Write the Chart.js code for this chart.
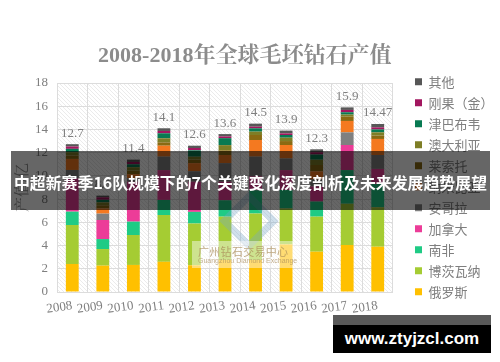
<!DOCTYPE html>
<html>
<head>
<meta charset="utf-8">
<script src="https://cdn.jsdelivr.net/npm/chart.js@4.4.1/dist/chart.umd.min.js"></script>
<style>
  html, body { margin: 0; padding: 0; background: #fff; }
  #wrap { position: relative; width: 500px; height: 362px; overflow: hidden; }
  #banner {
    position: absolute; left: 11px; top: 151px; width: 479px; height: 59px;
    background: rgba(0, 0, 0, 0.6); color: #fff;
    font-family: "Noto Sans CJK SC", sans-serif; font-weight: bold; font-size: 15.9px;
    line-height: 64px; text-align: center; white-space: nowrap;
  }
  #mark {
    position: absolute; left: 192px; top: 241px; width: 108px; height: 27px;
    background: rgba(255, 255, 255, 0.45);
  }
  #mark .cn { position: absolute; left: 6px; top: 2px; font-family: "Noto Sans CJK SC", sans-serif;
    font-size: 11px; color: rgba(170, 140, 90, 0.75); letter-spacing: 0.3px; white-space: nowrap; }
  #mark .en { position: absolute; left: 6px; top: 16px; font-family: "Liberation Sans", sans-serif;
    font-size: 7px; color: rgba(170, 140, 90, 0.7); white-space: nowrap; }
  #logo {
    position: absolute; left: 228px; top: 200px; width: 28px; height: 28px;
    border: 7px solid rgba(120, 165, 200, 0.35); transform: rotate(45deg);
  }
  #site-top { position: absolute; left: 333px; top: 315px; width: 158px; height: 10px; background: rgba(0,0,0,0.65); }
  #site {
    position: absolute; left: 333px; top: 325px; width: 158px; height: 28px; background: #000;
    color: #fff; font-family: "Liberation Sans", sans-serif; font-weight: bold; font-size: 17px;
    line-height: 28px; text-align: center;
  }
</style>
</head>
<body>
<div id="wrap">
  <canvas id="grafico" width="500" height="362"></canvas>
  <div id="logo"></div>
  <div id="mark"><span class="cn">广州钻石交易中心</span><span class="en">Guangzhou Diamond Exchange</span></div>
  <div id="banner">中超新赛季16队规模下的7个关键变化深度剖析及未来发展趋势展望</div>
  <div id="site-top"></div>
  <div id="site">www.ztyjzcl.com</div>
</div>
<script>
const anos = ['2008', '2009', '2010', '2011', '2012', '2013', '2014', '2015', '2016', '2017', '2018'];
const totais = ['12.7', '8.3', '11.4', '14.1', '12.6', '13.6', '14.5', '13.9', '12.3', '15.9', '14.47'];

// valores por pais, de baixo para cima na pilha
const russia      = [2.41, 2.27, 2.33, 2.60, 2.30, 2.76, 2.76, 4.10, 3.47, 4.05, 3.90];
const botswana    = [3.36, 1.43, 2.58, 4.03, 3.60, 3.73, 4.00, 3.10, 3.02, 3.55, 3.40];
const southAfrica = [1.15, 0.86, 1.15, 1.30, 1.00, 1.41, 2.00, 1.59, 1.30, 2.90, 2.00];
const canada      = [2.87, 1.64, 3.44, 2.57, 2.60, 1.60, 1.20, 1.71, 1.30, 2.16, 1.30];
const angola      = [0.72, 0.55, 0.30, 1.16, 0.90, 1.60, 1.70, 1.00, 0.60, 1.09, 1.20];
const namibia     = [0.95, 0.45, 0.35, 0.94, 0.70, 0.70, 1.43, 1.16, 0.70, 0.98, 1.38];
const lesotho     = [0.29, 0.27, 0.30, 0.29, 0.30, 0.40, 0.43, 0.34, 0.55, 0.37, 0.29];
const australia   = [0.29, 0.25, 0.30, 0.35, 0.25, 0.45, 0.29, 0.29, 0.45, 0.18, 0.28];
const zimbabwe    = [0.29, 0.22, 0.25, 0.43, 0.55, 0.60, 0.29, 0.23, 0.45, 0.20, 0.25];
const congo       = [0.20, 0.22, 0.20, 0.20, 0.20, 0.15, 0.14, 0.14, 0.20, 0.20, 0.18];
const outros      = [0.20, 0.14, 0.20, 0.23, 0.20, 0.20, 0.26, 0.24, 0.25, 0.22, 0.29];

const serif = "'Liberation Serif', 'Noto Serif CJK SC', 'Noto Sans CJK SC', serif";
const cinza = '#7f7f7f';

function serie(label, data, cor) {
    return { label: label, data: data, backgroundColor: cor, borderWidth: 0 };
}

// fundo hachurado da area do grafico
const fundo = {
    id: 'fundo',
    beforeDraw(chart) {
        const a = chart.chartArea;
        const p = document.createElement('canvas');
        p.width = 4; p.height = 4;
        const c = p.getContext('2d');
        c.strokeStyle = '#e3e3e3';
        c.lineWidth = 0.7;
        c.beginPath();
        c.moveTo(0, 0); c.lineTo(4, 4);
        c.moveTo(3, -1); c.lineTo(5, 1);
        c.moveTo(-1, 3); c.lineTo(1, 5);
        c.stroke();
        const ctx = chart.ctx;
        ctx.save();
        ctx.fillStyle = ctx.createPattern(p, 'repeat');
        ctx.fillRect(a.left, a.top, a.right - a.left, a.bottom - a.top);
        ctx.restore();
    }
};

// totais acima das barras
const rotulos = {
    id: 'rotulos',
    afterDatasetsDraw(chart) {
        const ctx = chart.ctx;
        const y = chart.scales.y;
        const meta = chart.getDatasetMeta(chart.data.datasets.length - 1);
        ctx.save();
        ctx.font = '13px ' + serif;
        ctx.fillStyle = cinza;
        ctx.textAlign = 'center';
        ctx.textBaseline = 'middle';
        anos.forEach((ano, i) => {
            let soma = 0;
            chart.data.datasets.forEach(d => { soma += d.data[i]; });
            ctx.fillText(totais[i], meta.data[i].x, y.getPixelForValue(soma) - 11);
        });
        ctx.restore();
    }
};

// empurra a legenda um pouco para a direita
const legendaDireita = {
    id: 'legendaDireita',
    afterLayout(chart) {
        chart.legend.left += 14;
        chart.legend.right += 14;
    }
};

const data = {
    labels: anos,
    datasets: [
        serie('俄罗斯', russia, '#FFC000'),
        serie('博茨瓦纳', botswana, '#A5CC33'),
        serie('南非', southAfrica, '#1FCB85'),
        serie('加拿大', canada, '#EC3C98'),
        serie('安哥拉', angola, '#808080'),
        serie('纳米比亚', namibia, '#F47920'),
        serie('莱索托', lesotho, '#8A6A12'),
        serie('澳大利亚', australia, '#7E7E26'),
        serie('津巴布韦', zimbabwe, '#087A52'),
        serie('刚果（金）', congo, '#A2165F'),
        serie('其他', outros, '#575757')
    ]
};

const config = {
    type: 'bar',
    data: data,
    options: {
        responsive: false,
        animation: false,
        datasets: { bar: { barPercentage: 0.42, categoryPercentage: 1 } },
        layout: { padding: { top: 11.4, right: 10.5, bottom: 0, left: 0 } },
        plugins: {
            tooltip: { enabled: false },
            title: {
                display: true,
                text: '2008-2018年全球毛坯钻石产值',
                color: '#8c8c8c',
                font: { family: serif, size: 22, weight: 'bold' },
                padding: { top: 31.4, bottom: 13.8 }
            },
            legend: {
                position: 'right',
                reverse: true,
                labels: {
                    boxWidth: 7,
                    boxHeight: 7,
                    padding: 8,
                    color: cinza,
                    font: { family: "'Noto Sans CJK SC', sans-serif", size: 13 }
                }
            }
        },
        scales: {
            x: {
                stacked: true,
                grid: { color: '#dcdcdc', drawTicks: false },
                border: { color: '#dcdcdc' },
                ticks: { color: cinza, font: { family: serif, size: 13 }, minRotation: 8, maxRotation: 8, padding: 6 },
                afterFit: s => { s.height = 70; }
            },
            y: {
                stacked: true,
                min: 0,
                max: 18,
                grid: { color: '#dcdcdc', drawTicks: false },
                border: { color: '#dcdcdc' },
                ticks: { stepSize: 2, color: cinza, font: { family: serif, size: 13 }, padding: 9 },
                title: {
                    display: true,
                    text: '产值/亿',
                    color: '#8c8c8c',
                    font: { family: serif, size: 15 },
                    padding: { top: 14, bottom: 0 }
                },
                afterFit: s => { s.width = 57; }
            }
        }
    },
    plugins: [fundo, rotulos, legendaDireita]
};

const grafico = new Chart(document.getElementById('grafico'), config);
</script>
</body>
</html>
